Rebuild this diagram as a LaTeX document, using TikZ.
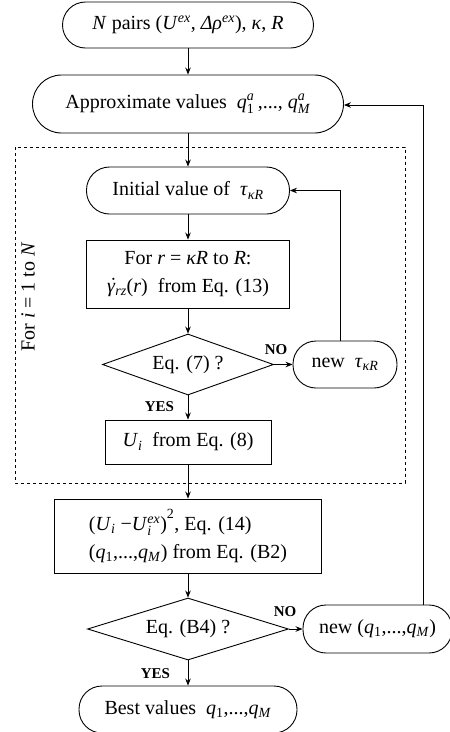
\documentclass[tikz,border=0pt]{standalone}
\usepackage{amsmath}
\usepackage{fontspec}
\setmainfont{Liberation Serif}
\usetikzlibrary{shapes.geometric,arrows.meta}
\newcommand{\vi}[1]{\textit{#1}}
\newcommand{\sps}[1]{\textsuperscript{#1}}
\newcommand{\sbs}[1]{\textsubscript{#1}}
\newcommand{\supsub}[2]{$^{\text{#1}}_{\text{#2}}$}
\newcommand{\gdot}{\ooalign{\vi{γ}\cr\hidewidth\kern.22em\raisebox{.05em}{˙}\hidewidth\cr}}
\begin{document}
\begin{tikzpicture}[x=1pt,y=-1pt,
  font=\fontsize{20}{28}\selectfont,
  pill/.style={draw, rectangle, rounded corners=23pt, inner sep=0pt, align=center},
  boxnode/.style={draw, rectangle, inner sep=0pt, align=center},
  dia/.style={draw, diamond, inner sep=0pt, aspect=#1},
  lab/.style={font=\fontsize{15}{17}\selectfont\bfseries, inner sep=0pt},
  arr/.style={-{Stealth[length=7pt,width=5.5pt]}},
  every path/.style={line width=0.9pt}]
\useasboundingbox (0,0) rectangle (450,732);

\node[pill, minimum width=251pt, minimum height=46pt] (n1) at (188,25)
  {\vi{N} pairs (\vi{U}\sps{\vi{ex}}, \vi{Δρ}\sps{\vi{ex}}), \vi{κ}, \vi{R}};
\node[pill, rounded corners=29pt, minimum width=311pt, minimum height=58pt] (n2) at (188,104)
  {Approximate values\ \ \vi{q}\supsub{\vi{a}}{1}\,,...,\ \vi{q}\supsub{\vi{a}}{\vi{M}}};

\draw[dashed] (15,147) rectangle (405,483);
\node[rotate=90] (loop) at (28,297) {For \vi{i} = 1 to \vi{N}};

\node[pill, minimum width=203pt, minimum height=47pt] (n3) at (188,190.5)
  {Initial value of\ \ \vi{τ}\sbs{\vi{κR}}};
\node[boxnode, minimum width=203pt, minimum height=68pt] (n4) at (188,274)
  {For \vi{r} = \vi{κR} to \vi{R}:\\ \gdot\sbs{\vi{rz}}(\vi{r})\ \ from Eq. (13)};
\node[dia=2.8, minimum width=171pt, minimum height=61pt] (d1) at (188,364.5)
  {Eq. (7) ?};
\node[pill, minimum width=104pt, minimum height=47pt] (n5) at (345,364.5)
  {new\ \ \vi{τ}\sbs{\vi{κR}}};
\node[boxnode, minimum width=166pt, minimum height=44pt] (n6) at (188,442)
  {\vi{U}\sbs{\vi{i}}\ \ from Eq. (8)};

\node[boxnode, minimum width=267pt, minimum height=74pt, align=left] (n7) at (188,536)
  {(\vi{U}\sbs{\vi{i}} −\vi{U}\supsub{\vi{ex}}{\vi{i}})\raisebox{.25em}{\sps{2}}, Eq. (14)\\(\vi{q}\sbs{1},...,\vi{q}\sbs{\vi{M}}) from Eq. (B2)};
\node[dia=3.2, minimum width=201pt, minimum height=62pt] (d2) at (188,629)
  {Eq. (B4) ?};
\node[pill, minimum width=149pt, minimum height=48pt] (n8) at (377.5,629)
  {new (\vi{q}\sbs{1},...,\vi{q}\sbs{\vi{M}})};
\node[pill, minimum width=218pt, minimum height=47pt] (n9) at (188,709.5)
  {Best values\ \ \vi{q}\sbs{1},...,\vi{q}\sbs{\vi{M}}};

\node[lab] (no1) at (276,350) {NO};
\node[lab] (yes1) at (159.5,407) {YES};
\node[lab] (no2) at (285,612) {NO};
\node[lab] (yes2) at (155.5,673.5) {YES};

\draw[arr] (n1) -- (n2);
\draw[arr] (n2) -- (n3);
\draw[arr] (n3) -- (n4);
\draw[arr] (n4) -- (d1);
\draw[arr] (d1.east) -- (n5.west);
\draw[arr] ([xshift=-5pt]n5.north) |- (n3.east);
\draw[arr] (d1.south) -- (n6.north);
\draw[arr] (n6) -- (n7);
\draw[arr] (n7) -- (d2);
\draw[arr] (d2.east) -- (n8.west);
\draw[arr] ([xshift=45.5pt]n8.north) |- ([yshift=-1pt]n2.east);
\draw[arr] (d2.south) -- (n9.north);
\end{tikzpicture}
\end{document}
